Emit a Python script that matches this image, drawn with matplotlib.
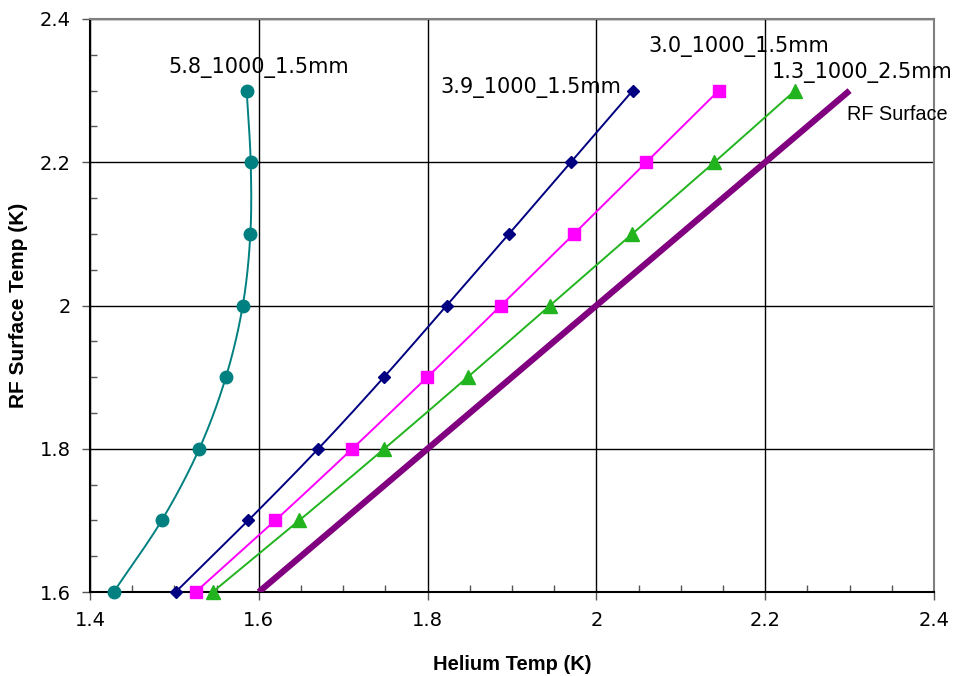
import numpy as np
import matplotlib
matplotlib.use('Agg')
import matplotlib.pyplot as plt
from matplotlib.ticker import MultipleLocator

# RF surface temperature levels (K)
rf_temp = [1.6, 1.7, 1.8, 1.9, 2.0, 2.1, 2.2, 2.3]

# helium temperature needed for each case (K)
he_58_15 = [1.428, 1.485, 1.5295, 1.561, 1.581, 1.590, 1.5904, 1.5856]
he_39_15 = [1.5015, 1.5876, 1.6705, 1.7483, 1.8226, 1.8965, 1.9695, 2.043]
he_30_15 = [1.5252, 1.6196, 1.7108, 1.7997, 1.887, 1.9735, 2.0591, 2.1449]
he_13_25 = [1.5453, 1.648, 1.7487, 1.8475, 1.945, 2.0425, 2.1397, 2.2353]

rf_line_x = [1.6, 2.3]
rf_line_y = [1.6, 2.3]

labels = ['5.8_1000_1.5mm', '3.9_1000_1.5mm', '3.0_1000_1.5mm', '1.3_1000_2.5mm']


def smooth(x, y, n=20):
    # catmull-rom through the points, like excel's smoothed line
    x = np.asarray(x, float)
    y = np.asarray(y, float)
    px = np.concatenate([[2 * x[0] - x[1]], x, [2 * x[-1] - x[-2]]])
    py = np.concatenate([[2 * y[0] - y[1]], y, [2 * y[-1] - y[-2]]])
    t = np.linspace(0, 1, n)
    xs, ys = [], []
    for i in range(1, len(px) - 2):
        for p, out in ((px, xs), (py, ys)):
            p0, p1, p2, p3 = p[i - 1], p[i], p[i + 1], p[i + 2]
            out.extend(0.5 * (2 * p1 + (-p0 + p2) * t
                              + (2 * p0 - 5 * p1 + 4 * p2 - p3) * t ** 2
                              + (-p0 + 3 * p1 - 3 * p2 + p3) * t ** 3))
    return np.array(xs), np.array(ys)


fig = plt.figure(figsize=(9.57, 6.76), dpi=100)
ax = fig.add_axes([90 / 957, 84 / 676, 844 / 957, 573 / 676])

series = [
    (he_58_15, '#008080', 'o', 9),
    (he_39_15, '#000080', 'D', 6),
    (he_30_15, '#ff00ff', 's', 8),
    (he_13_25, '#22b41e', '^', 10),
]
for hx, col, mk, ms in series:
    sx, sy = smooth(hx, rf_temp)
    ax.plot(sx, sy, color=col, lw=1.4, zorder=3, clip_on=False)
    ax.plot(hx, rf_temp, ls='none', marker=mk, ms=ms, color=col,
            mec=col, zorder=4, clip_on=False)

ax.plot(rf_line_x, rf_line_y, color='#800080', lw=4.5, zorder=3,
        solid_capstyle='butt')

ax.set_xlim(1.4, 2.4)
ax.set_ylim(1.6, 2.4)
ax.xaxis.set_major_locator(MultipleLocator(0.2))
ax.xaxis.set_minor_locator(MultipleLocator(0.05))
ax.yaxis.set_major_locator(MultipleLocator(0.2))
ax.yaxis.set_minor_locator(MultipleLocator(0.05))
ax.grid(which='major', color='black', lw=1.0, zorder=1)
ax.set_axisbelow(True)
ax.set_xticks([1.4, 1.6, 1.8, 2.0, 2.2, 2.4])
ax.set_xticklabels(['1.4', '1.6', '1.8', '2', '2.2', '2.4'])
ax.set_yticks([1.6, 1.8, 2.0, 2.2, 2.4])
ax.set_yticklabels(['1.6', '1.8', '2', '2.2', '2.4'])
ax.tick_params(which='major', direction='out', length=6, width=1,
               color='#555555', labelsize=14, pad=8)
ax.tick_params(which='minor', direction='in', length=5, width=1,
               color='#555555')
for lab in ax.get_xticklabels() + ax.get_yticklabels():
    lab.set_fontfamily('DejaVu Sans')
for sp in ax.spines.values():
    sp.set_color('#808080')
    sp.set_linewidth(1.5)
ax.spines['bottom'].set_color('black')
ax.spines['left'].set_color('black')

ax.set_xlabel('Helium Temp (K)', fontfamily='Liberation Sans',
              fontweight='bold', fontsize=14.5, labelpad=18)
ax.set_ylabel('RF Surface Temp (K)', fontfamily='Liberation Sans',
              fontweight='bold', fontsize=15, labelpad=8)

lab_font = dict(fontfamily='DejaVu Sans', fontsize=15, color='black',
                va='center', ha='left')
ax.text(1.4924, 2.3316, labels[0], **lab_font)
ax.text(1.8147, 2.305, labels[1], **lab_font)
ax.text(2.0611, 2.3623, labels[2], **lab_font)
ax.text(2.208, 2.326, labels[3], **lab_font)
ax.text(2.2969, 2.266, 'RF Surface', ha='left', va='center',
        fontfamily='Liberation Sans', fontsize=14.3, color='black')

fig.savefig('out.png', dpi=100)
